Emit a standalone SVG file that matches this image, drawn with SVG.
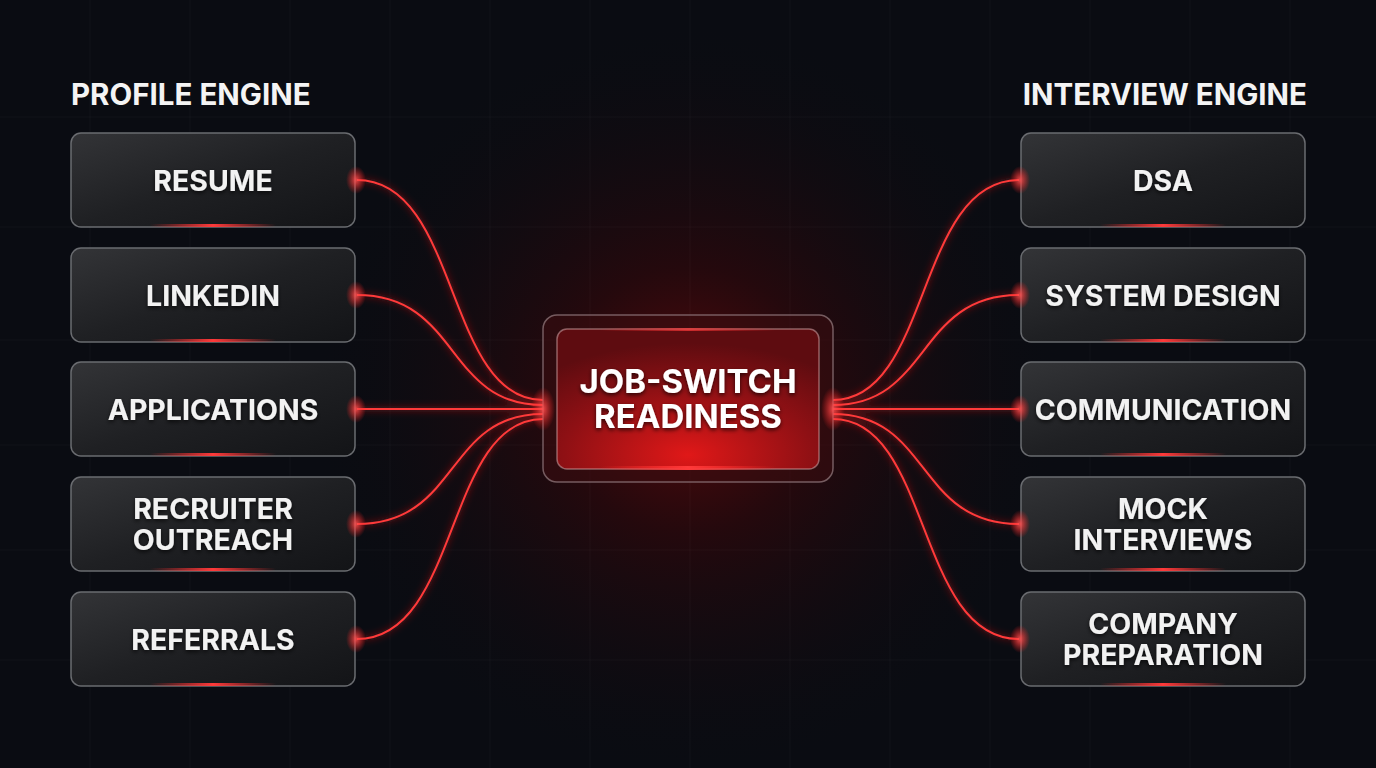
<svg xmlns="http://www.w3.org/2000/svg" width="1376" height="768" viewBox="0 0 1376 768">
<defs>
<style>
.ttl{font-family:Inter,"Liberation Sans",sans-serif;font-weight:700;font-size:29.5px;fill:#f4f4f4}
.lbl{font-family:Inter,"Liberation Sans",sans-serif;font-weight:700;font-size:28.5px;fill:#f2f2f2;text-anchor:middle}
.ctr{font-family:Inter,"Liberation Sans",sans-serif;font-weight:700;font-size:33px;fill:#ffffff;text-anchor:middle}
.box{fill:url(#nodeG);stroke:#6a6c70;stroke-width:1.5}
.grid{stroke:#ffffff;stroke-opacity:0.035;stroke-width:1}
.wire{fill:none;stroke:#ff3a3a;stroke-width:2}
.wglow{fill:none;stroke:#ff1a1a;stroke-width:6;stroke-opacity:0.25;filter:url(#blur)}
</style>
<linearGradient id="nodeG" x1="0" y1="0" x2="1" y2="1">
<stop offset="0" stop-color="#333437"/>
<stop offset="0.5" stop-color="#1f2023"/>
<stop offset="1" stop-color="#131417"/>
</linearGradient>
<radialGradient id="bgGlow" cx="688" cy="400" r="380" gradientUnits="userSpaceOnUse">
<stop offset="0" stop-color="#7a0a0a" stop-opacity="0.75"/>
<stop offset="0.35" stop-color="#450507" stop-opacity="0.45"/>
<stop offset="1" stop-color="#0a0c12" stop-opacity="0"/>
</radialGradient>
<radialGradient id="ctrFill" cx="0.5" cy="0.9" r="0.8">
<stop offset="0" stop-color="#e01818"/>
<stop offset="0.6" stop-color="#8e1014"/>
<stop offset="1" stop-color="#5e0c10"/>
</radialGradient>
<radialGradient id="dot" cx="0.5" cy="0.5" r="0.5">
<stop offset="0" stop-color="#ff5050" stop-opacity="0.9"/>
<stop offset="1" stop-color="#ff2020" stop-opacity="0"/>
</radialGradient>
<linearGradient id="botLine" x1="0" y1="0" x2="1" y2="0">
<stop offset="0" stop-color="#ff2a2a" stop-opacity="0"/>
<stop offset="0.5" stop-color="#ff3a3a" stop-opacity="1"/>
<stop offset="1" stop-color="#ff2a2a" stop-opacity="0"/>
</linearGradient>
<filter id="blur" x="-20%" y="-20%" width="140%" height="140%"><feGaussianBlur stdDeviation="3"/></filter>
<filter id="shadow" x="-10%" y="-10%" width="120%" height="130%"><feDropShadow dx="0" dy="2" stdDeviation="2" flood-color="#000" flood-opacity="0.7"/></filter>
</defs>

<rect width="1376" height="768" fill="#0a0c12"/>
<rect width="1376" height="768" fill="url(#bgGlow)"/>

<g id="grid">
<path class="grid" d="M390 0V768M490 0V768M590 0V768M690 0V768M790 0V768M890 0V768M990 0V768M290 0V768M190 0V768M90 0V768M1090 0V768M1190 0V768M1290 0V768"/>
<path class="grid" d="M0 117H1376M0 227H1376M0 340H1376M0 445H1376M0 550H1376M0 660H1376"/>
</g>

<g id="connectors">
<path class="wglow" d="M357 180C460 180 445 400 543 400M357 295C460 295 445 405 543 405M357 409H543M357 524C460 524 445 414 543 414M357 639C460 639 445 419 543 419"/>
<path class="wire" d="M357 180C460 180 445 400 543 400M357 295C460 295 445 405 543 405M357 409H543M357 524C460 524 445 414 543 414M357 639C460 639 445 419 543 419"/>
<path class="wglow" d="M1019 180C916 180 931 400 833 400M1019 295C916 295 931 405 833 405M1019 409H833M1019 524C916 524 931 414 833 414M1019 639C916 639 931 419 833 419"/>
<path class="wire" d="M1019 180C916 180 931 400 833 400M1019 295C916 295 931 405 833 405M1019 409H833M1019 524C916 524 931 414 833 414M1019 639C916 639 931 419 833 419"/>
</g>

<text class="ttl" x="71" y="105">PROFILE ENGINE</text>
<text class="ttl" x="1307" y="105" text-anchor="end">INTERVIEW ENGINE</text>

<g id="n-resume"><rect class="box" x="71" y="133" width="284" height="94" rx="10"/><rect x="150" y="224" width="126" height="3" fill="url(#botLine)"/><ellipse cx="356" cy="180" rx="10" ry="14" fill="url(#dot)"/><text class="lbl" x="213" y="191" filter="url(#shadow)">RESUME</text></g>
<g id="n-linkedin"><rect class="box" x="71" y="248" width="284" height="94" rx="10"/><rect x="150" y="339" width="126" height="3" fill="url(#botLine)"/><ellipse cx="356" cy="295" rx="10" ry="14" fill="url(#dot)"/><text class="lbl" x="213" y="306" filter="url(#shadow)">LINKEDIN</text></g>
<g id="n-applications"><rect class="box" x="71" y="362" width="284" height="94" rx="10"/><rect x="150" y="453" width="126" height="3" fill="url(#botLine)"/><ellipse cx="356" cy="409" rx="10" ry="14" fill="url(#dot)"/><text class="lbl" x="213" y="420" filter="url(#shadow)">APPLICATIONS</text></g>
<g id="n-recruiter"><rect class="box" x="71" y="477" width="284" height="94" rx="10"/><rect x="150" y="568" width="126" height="3" fill="url(#botLine)"/><ellipse cx="356" cy="524" rx="10" ry="14" fill="url(#dot)"/><text class="lbl" x="213" y="519" filter="url(#shadow)">RECRUITER</text><text class="lbl" x="213" y="550" filter="url(#shadow)">OUTREACH</text></g>
<g id="n-referrals"><rect class="box" x="71" y="592" width="284" height="94" rx="10"/><rect x="150" y="683" width="126" height="3" fill="url(#botLine)"/><ellipse cx="356" cy="639" rx="10" ry="14" fill="url(#dot)"/><text class="lbl" x="213" y="650" filter="url(#shadow)">REFERRALS</text></g>

<g id="n-dsa"><rect class="box" x="1021" y="133" width="284" height="94" rx="10"/><rect x="1100" y="224" width="126" height="3" fill="url(#botLine)"/><ellipse cx="1020" cy="180" rx="10" ry="14" fill="url(#dot)"/><text class="lbl" x="1163" y="191" filter="url(#shadow)">DSA</text></g>
<g id="n-sysdesign"><rect class="box" x="1021" y="248" width="284" height="94" rx="10"/><rect x="1100" y="339" width="126" height="3" fill="url(#botLine)"/><ellipse cx="1020" cy="295" rx="10" ry="14" fill="url(#dot)"/><text class="lbl" x="1163" y="306" filter="url(#shadow)">SYSTEM DESIGN</text></g>
<g id="n-communication"><rect class="box" x="1021" y="362" width="284" height="94" rx="10"/><rect x="1100" y="453" width="126" height="3" fill="url(#botLine)"/><ellipse cx="1020" cy="409" rx="10" ry="14" fill="url(#dot)"/><text class="lbl" x="1163" y="420" filter="url(#shadow)">COMMUNICATION</text></g>
<g id="n-mock"><rect class="box" x="1021" y="477" width="284" height="94" rx="10"/><rect x="1100" y="568" width="126" height="3" fill="url(#botLine)"/><ellipse cx="1020" cy="524" rx="10" ry="14" fill="url(#dot)"/><text class="lbl" x="1163" y="519" filter="url(#shadow)">MOCK</text><text class="lbl" x="1163" y="550" filter="url(#shadow)">INTERVIEWS</text></g>
<g id="n-company"><rect class="box" x="1021" y="592" width="284" height="94" rx="10"/><rect x="1100" y="683" width="126" height="3" fill="url(#botLine)"/><ellipse cx="1020" cy="639" rx="10" ry="14" fill="url(#dot)"/><text class="lbl" x="1163" y="634" filter="url(#shadow)">COMPANY</text><text class="lbl" x="1163" y="665" filter="url(#shadow)">PREPARATION</text></g>

<g id="n-center">
<rect x="543" y="315" width="290" height="167" rx="14" fill="#3a0c10" fill-opacity="0.55" stroke="#8a7074" stroke-opacity="0.8" stroke-width="1.5"/>
<rect x="557" y="329" width="262" height="140" rx="10" fill="url(#ctrFill)" stroke="#c89a9c" stroke-opacity="0.6" stroke-width="1.5"/>
<rect x="600" y="466" width="176" height="4" fill="url(#botLine)"/>
<rect x="600" y="328" width="176" height="3" fill="url(#botLine)" opacity="0.7"/>
<ellipse cx="543" cy="409" rx="12" ry="22" fill="url(#dot)"/>
<ellipse cx="833" cy="409" rx="12" ry="22" fill="url(#dot)"/>
<text class="ctr" x="688" y="393" filter="url(#shadow)">JOB-SWITCH</text>
<text class="ctr" x="688" y="428" filter="url(#shadow)">READINESS</text>
</g>
</svg>
